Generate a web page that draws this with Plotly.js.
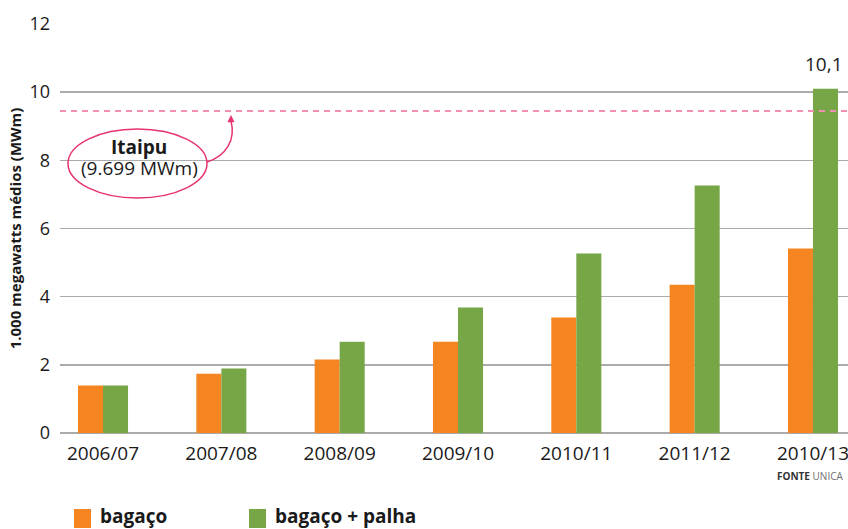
<!DOCTYPE html>
<html>
<head>
<meta charset="utf-8">
<script src="https://cdn.plot.ly/plotly-3.0.1.min.js"></script>
<style>html,body{margin:0;padding:0;background:#fff;}#chart{width:848px;height:529px;}</style>
</head>
<body>
<div id="chart"></div>
<script>
const categories = ['2006/07','2007/08','2008/09','2009/10','2010/11','2011/12','2010/13'];
const bagaco = [1.39, 1.74, 2.16, 2.68, 3.39, 4.35, 5.41];
const bagacoPalha = [1.39, 1.89, 2.68, 3.68, 5.27, 7.26, 10.1];
const seriesNames = ['bagaço', 'bagaço + palha'];
const itaipuLevel = 9.45;
const lastLabel = '10,1';

const W = 848, H = 529, ML = 60, MR = 0, MT = 24, MB = 96;
const PW = W - ML - MR, PH = H - MT - MB;
const px = v => (v - ML) / PW;
const py = v => (H - MB - v) / PH;

const ORANGE = '#F48521', GREEN = '#76A646', PINK = '#E8336E';
const FONT = 'Open Sans, Noto Sans, sans-serif';

const traces = [
  {type:'bar', name:seriesNames[0], x:categories, y:bagaco, marker:{color:ORANGE}, hoverinfo:'skip'},
  {type:'bar', name:seriesNames[1], x:categories, y:bagacoPalha, marker:{color:GREEN}, hoverinfo:'skip'}
];

const arrowPath = `M ${px(207)},${py(162)} C ${px(226)},${py(156)} ${px(236)},${py(140)} ${px(231)},${py(121)}`;
const headPath = `M ${px(231)},${py(115.5)} L ${px(227.8)},${py(122)} L ${px(234.2)},${py(122)} Z`;

const layout = {
  width: W, height: H,
  margin: {l: ML, r: MR, t: MT, b: MB, pad: 0},
  paper_bgcolor: '#fff', plot_bgcolor: '#fff',
  font: {family: FONT, color: '#1a1a1a'},
  showlegend: false,
  barmode: 'group', bargap: 0.577, bargroupgap: 0,
  xaxis: {
    type: 'category', range: [-0.3635, 6.296],
    showgrid: false, zeroline: false, showline: false,
    ticks: '', tickfont: {size: 19, color: '#1a1a1a'},
    ticklabelstandoff: 7, fixedrange: true
  },
  yaxis: {
    range: [0, 12], tickvals: [0,2,4,6,8,10,12], ticktext: ['0','2','4','6','8','10','12'],
    showgrid: true, gridcolor: '#ababab', gridwidth: 1.6,
    zeroline: true, zerolinecolor: '#ababab', zerolinewidth: 1.6,
    showline: false, ticks: '', ticklabelstandoff: 9,
    tickfont: {size: 18, color: '#1a1a1a'},
    title: {text: '<b>1.000 megawatts médios (MWm)</b>', font: {size: 15, color: '#1a1a1a'}, standoff: 4},
    automargin: false, fixedrange: true
  },
  shapes: [
    {type:'line', xref:'paper', yref:'y', x0:0, x1:1, y0:itaipuLevel, y1:itaipuLevel,
     line:{color:'#F28FB2', width:2, dash:'6px,5px'}},
    {type:'circle', xref:'paper', yref:'paper', x0:px(68), x1:px(207), y0:py(198), y1:py(129),
     line:{color:PINK, width:1.5}, fillcolor:'rgba(255,255,255,0)'},
    {type:'path', xref:'paper', yref:'paper', path:arrowPath, line:{color:PINK, width:1.5}},
    {type:'path', xref:'paper', yref:'paper', path:headPath, line:{color:PINK, width:0.5}, fillcolor:PINK},
    {type:'rect', xref:'paper', yref:'paper', x0:px(74), x1:px(91), y0:py(528), y1:py(509),
     line:{width:0}, fillcolor:ORANGE},
    {type:'rect', xref:'paper', yref:'paper', x0:px(249), x1:px(266), y0:py(528), y1:py(509),
     line:{width:0}, fillcolor:GREEN}
  ],
  annotations: [
    {xref:'paper', yref:'paper', x:px(139), y:py(146.5), text:'<b>Itaipu</b>', showarrow:false,
     xanchor:'center', yanchor:'middle', font:{size:19, color:'#1a1a1a'}},
    {xref:'paper', yref:'paper', x:px(139), y:py(167.5), text:'(9.699 MWm)', showarrow:false,
     xanchor:'center', yanchor:'middle', font:{size:19, color:'#1a1a1a'}},
    {xref:'x', yref:'y', x:categories[6], y:bagacoPalha[6], xshift:11, yshift:10, text:lastLabel,
     showarrow:false, xanchor:'center', yanchor:'bottom', font:{size:19, color:'#1a1a1a'}},
    {xref:'paper', yref:'paper', x:px(845), y:py(476), text:'<b>FONTE</b> <span style="color:#707070">UNICA</span>',
     showarrow:false, xanchor:'right', yanchor:'middle', font:{size:10, color:'#333'}},
    {xref:'paper', yref:'paper', x:px(98), y:py(516), text:'<b>'+seriesNames[0]+'</b>', showarrow:false,
     xanchor:'left', yanchor:'middle', font:{size:19, color:'#1a1a1a'}},
    {xref:'paper', yref:'paper', x:px(273), y:py(516), text:'<b>'+seriesNames[1]+'</b>', showarrow:false,
     xanchor:'left', yanchor:'middle', font:{size:19, color:'#1a1a1a'}}
  ]
};

Plotly.newPlot('chart', traces, layout, {displayModeBar:false, staticPlot:true});
</script>
</body>
</html>
